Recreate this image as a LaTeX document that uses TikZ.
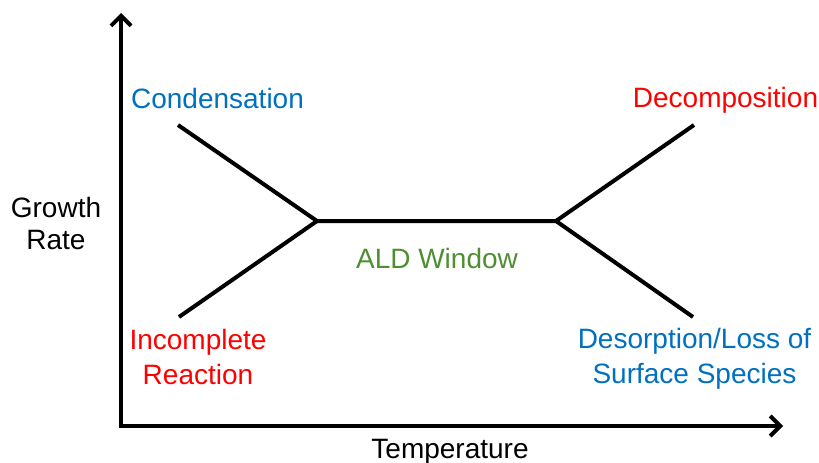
\documentclass[tikz,border=0pt]{standalone}
\usepackage{fontspec}
\setmainfont{Liberation Sans}
\usetikzlibrary{arrows.meta}
\definecolor{lowc}{HTML}{0070C0}
\definecolor{highc}{HTML}{FF0000}
\definecolor{winc}{HTML}{4F8F32}

\begin{document}
\begin{tikzpicture}[x=1pt, y=-1pt,
  axis/.style={line width=4pt, {Straight Barb[length=10pt, width=20pt]}-{Straight Barb[length=10pt, width=20pt]}, line join=miter},
  branch/.style={line width=4pt, line join=miter},
  lbl/.style={inner sep=0pt, font=\fontsize{28}{35}\selectfont, align=center},
  ttl/.style={inner sep=0pt, font=\fontsize{28}{32}\selectfont, align=center}
]
  \useasboundingbox (0,0) rectangle (819,463);

  % axes
  \coordinate (origin) at (121,426);
  \coordinate (ytop) at (121,13);
  \coordinate (xend) at (783,426);
  \draw[axis] (ytop) -- (origin) -- (xend);

  % growth curve
  \coordinate (cond) at (178,125);
  \coordinate (inc) at (179,317);
  \coordinate (jl) at (317,221);
  \coordinate (jr) at (556,221);
  \coordinate (dec) at (694,125);
  \coordinate (des) at (693,317);
  \draw[branch] (cond) -- (jl) -- (jr) -- (dec);
  \draw[branch] (inc) -- (jl);
  \draw[branch] (des) -- (jr);

  % labels
  \node[lbl, anchor=base, text=lowc] (condlbl) at (217.5,108) {Condensation};
  \node[lbl, anchor=base, text=highc] (declbl) at (725.5,107) {Decomposition};
  \node[lbl, text=highc] (inclbl) at (198,356.5) {Incomplete\\Reaction};
  \node[lbl, text=lowc] (deslbl) at (694.5,358.5) {Desorption/Loss of\\Surface Species};
  \node[lbl, anchor=base, text=winc] (window) at (437,268) {ALD Window};
  \node[ttl] (ylbl) at (56,223.5) {Growth\\Rate};
  \node[lbl, anchor=base] (xlbl) at (450,458) {Temperature};
\end{tikzpicture}
\end{document}
